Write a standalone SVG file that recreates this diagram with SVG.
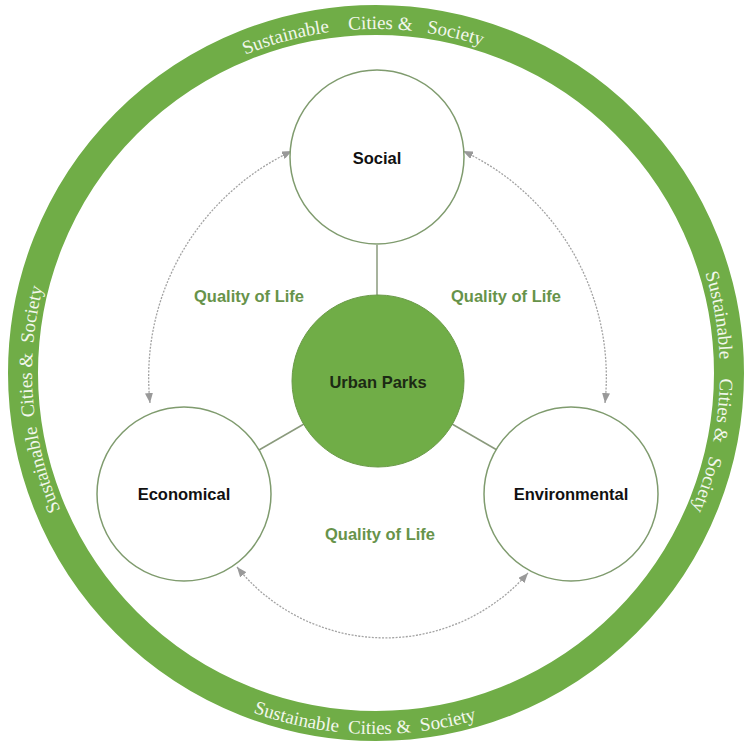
<svg xmlns="http://www.w3.org/2000/svg" width="755" height="749" viewBox="0 0 755 749">
<style>
.ring{fill:none;stroke:#70ad47;stroke-width:30}
.rt{font-family:"Liberation Serif","Times New Roman",serif;font-size:19px;fill:#f2f7ec;white-space:pre}
.node{fill:#fff;stroke:#7f9b6e;stroke-width:1.5}
.hub{fill:#70ad47;stroke:#6a9a48;stroke-width:1}
.lbl{font-family:"Liberation Sans",Arial,sans-serif;font-weight:bold;font-size:16.5px;fill:#111;text-anchor:middle}
.q{font-family:"Liberation Sans",Arial,sans-serif;font-weight:bold;font-size:16.5px;fill:#67934a;text-anchor:middle}
.link{stroke:#8a9a7c;stroke-width:1.5;fill:none}
.arc{stroke:#a3a3a3;stroke-width:1.3;stroke-dasharray:2 1.4;fill:none;marker-start:url(#ah);marker-end:url(#ah)}
</style>
<defs>
<marker id="ah" viewBox="0 0 10 8" refX="10" refY="4" markerWidth="10" markerHeight="8" markerUnits="userSpaceOnUse" orient="auto-start-reverse">
<path d="M0,0 L10,4 L0,8 z" fill="#999"/>
</marker>
<path id="cw" d="M376,717 A344,344 0 1 1 376,29 A344,344 0 1 1 376,717"/>
<path id="ccw" d="M376,12 A361,361 0 1 0 376,734 A361,361 0 1 0 376,12"/>
</defs>
<g id="ring">
<circle class="ring" cx="376" cy="373" r="353"/>
<text class="rt" text-anchor="middle"><textPath href="#cw" startOffset="1067">Sustainable    Cities &amp;   Society</textPath></text>
<text class="rt" text-anchor="middle"><textPath href="#cw" startOffset="1640">Sustainable    Cities &amp;   Society</textPath></text>
<text class="rt" text-anchor="middle"><textPath href="#cw" startOffset="513">Sustainable  Cities &amp;  Society</textPath></text>
<text class="rt" text-anchor="middle"><textPath href="#ccw" startOffset="1122">Sustainable  Cities &amp;  Society</textPath></text>
</g>
<g id="connectors">
<line class="link" x1="377" y1="245" x2="377" y2="295"/>
<line class="link" x1="304" y1="424" x2="259" y2="450"/>
<line class="link" x1="452" y1="424" x2="497" y2="450"/>
<path class="arc" d="M150,403 A250,250 0 0 1 292,151"/>
<path class="arc" d="M605,403 A250,250 0 0 0 463,151"/>
<path class="arc" d="M237,567 A190,190 0 0 0 528,573"/>
</g>
<g id="social">
<circle class="node" cx="377" cy="157" r="87"/>
<text class="lbl" x="377" y="164">Social</text>
</g>
<g id="urban-parks">
<circle class="hub" cx="378" cy="381" r="86"/>
<text class="lbl" x="378" y="388" style="fill:#1c2a14">Urban Parks</text>
</g>
<g id="economical">
<circle class="node" cx="184" cy="494" r="87"/>
<text class="lbl" x="184" y="500">Economical</text>
</g>
<g id="environmental">
<circle class="node" cx="571" cy="494" r="87"/>
<text class="lbl" x="571" y="500">Environmental</text>
</g>
<g id="labels">
<text class="q" x="249" y="302">Quality of Life</text>
<text class="q" x="506" y="302">Quality of Life</text>
<text class="q" x="380" y="540">Quality of Life</text>
</g>
</svg>
